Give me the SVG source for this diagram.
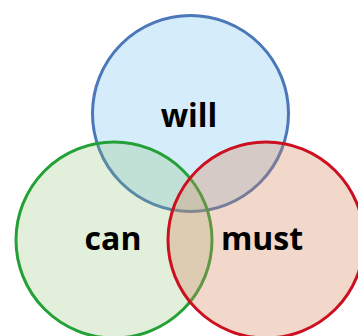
<svg xmlns="http://www.w3.org/2000/svg" width="358" height="336" viewBox="0 0 358 336">
<style>
.c{stroke-width:3}
.t{font-family:"Open Sans","Noto Sans","DejaVu Sans",sans-serif;font-weight:bold;font-size:32px;fill:#000;text-anchor:middle}
</style>
<rect width="358" height="336" fill="#fff"/>
<g id="will">
<circle class="c" cx="190.5" cy="113.5" r="98" fill="#2f9fe8" fill-opacity="0.2" stroke="#4a78b8"/>
</g>
<g id="can">
<circle class="c" cx="114" cy="240" r="98" fill="#8bbf6b" fill-opacity="0.25" stroke="#24a136"/>
</g>
<g id="must">
<circle class="c" cx="266" cy="240" r="98" fill="#d98660" fill-opacity="0.33" stroke="#cc1020"/>
</g>
<g id="labels">
<text class="t" x="189" y="127">will</text>
<text class="t" x="113" y="250">can</text>
<text class="t" x="262" y="250">must</text>
</g>
</svg>
